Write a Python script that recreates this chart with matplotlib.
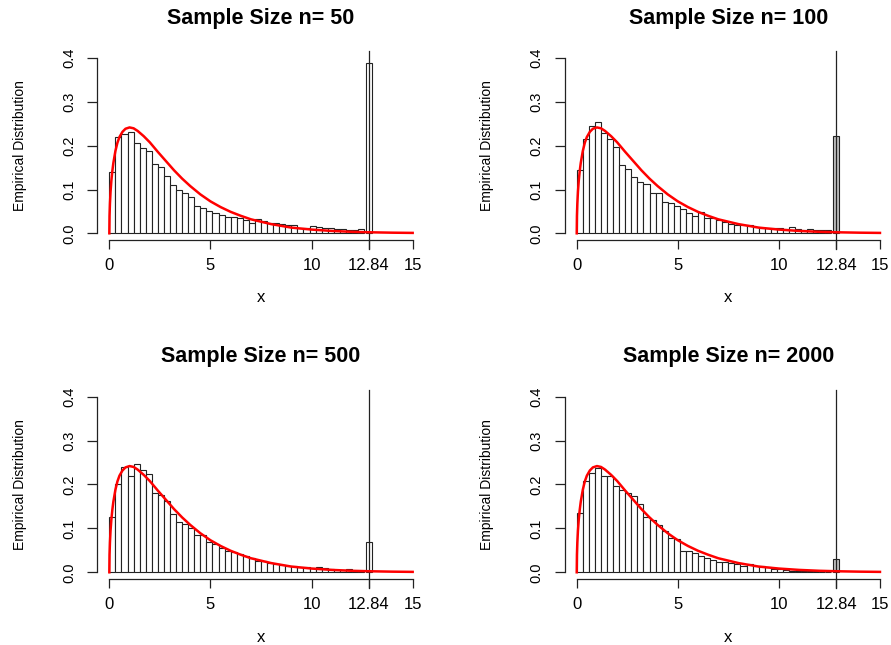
import matplotlib.pyplot as plt
import numpy as np

plt.rcParams['font.family'] = ['Liberation Sans', 'DejaVu Sans']

sample_sizes = [50, 100, 500, 2000]
cutoff = 12.84
bin_width = 0.3

# bar heights (density), bins of 0.3 starting at 0
dens_50 = [0.139, 0.221, 0.226, 0.231, 0.207, 0.196, 0.189, 0.158, 0.152, 0.130,
           0.110, 0.098, 0.091, 0.083, 0.063, 0.057, 0.051, 0.046, 0.042, 0.037,
           0.037, 0.034, 0.030, 0.024, 0.032, 0.027, 0.024, 0.023, 0.021, 0.019,
           0.018, 0.013, 0.013, 0.016, 0.014, 0.013, 0.013, 0.010, 0.009, 0.008,
           0.008, 0.009]
dens_100 = [0.145, 0.216, 0.246, 0.254, 0.230, 0.216, 0.198, 0.155, 0.146, 0.128,
            0.118, 0.112, 0.091, 0.091, 0.072, 0.070, 0.063, 0.055, 0.046, 0.040,
            0.049, 0.036, 0.034, 0.030, 0.025, 0.021, 0.019, 0.018, 0.020, 0.014,
            0.011, 0.013, 0.013, 0.013, 0.009, 0.014, 0.010, 0.008, 0.009, 0.008,
            0.008, 0.008]
dens_500 = [0.125, 0.200, 0.239, 0.219, 0.246, 0.233, 0.224, 0.181, 0.176, 0.162,
            0.132, 0.114, 0.111, 0.101, 0.086, 0.086, 0.070, 0.065, 0.056, 0.049,
            0.046, 0.042, 0.036, 0.032, 0.026, 0.025, 0.021, 0.019, 0.017, 0.015,
            0.014, 0.012, 0.011, 0.010, 0.013, 0.009, 0.007, 0.005, 0.005, 0.008,
            0.003, 0.002]
dens_2000 = [0.134, 0.207, 0.227, 0.237, 0.220, 0.220, 0.197, 0.188, 0.180, 0.174,
             0.156, 0.126, 0.119, 0.108, 0.093, 0.077, 0.075, 0.049, 0.049, 0.043,
             0.036, 0.032, 0.028, 0.024, 0.023, 0.021, 0.018, 0.015, 0.018, 0.014,
             0.015, 0.012, 0.008, 0.007, 0.005, 0.004, 0.004, 0.003, 0.002, 0.002,
             0.0015, 0.001]
all_dens = [dens_50, dens_100, dens_500, dens_2000]

# mass piled up at the cutoff
spike = [0.390, 0.223, 0.070, 0.030]
spike_fill = ['white', '#bebebe', 'white', '#bebebe']

# theoretical density (red curve)
curve_x = [0, 0.01, 0.03, 0.06, 0.1, 0.15, 0.2, 0.3, 0.4, 0.5, 0.65, 0.8, 1.0,
           1.2, 1.4, 1.7, 2.0, 2.4, 2.8, 3.2, 3.6, 4.0, 4.5, 5.0, 5.5, 6.0, 6.5,
           7.0, 8.0, 9.0, 10.0, 11.0, 12.0, 13.0, 14.0, 15.0]
curve_y = [0, 0.040, 0.068, 0.095, 0.120, 0.143, 0.161, 0.188, 0.207, 0.220,
           0.232, 0.239, 0.242, 0.240, 0.234, 0.222, 0.208, 0.186, 0.165, 0.144,
           0.125, 0.108, 0.089, 0.073, 0.060, 0.049, 0.040, 0.032, 0.021, 0.013,
           0.0085, 0.0054, 0.0034, 0.0022, 0.0014, 0.0009]

W, H = 891, 645
fig = plt.figure(figsize=(W / 100, H / 100), dpi=100)

# plot regions in pixels: left, top, right, bottom
boxes = [(97.2, 51.3, 424.8, 240.3), (564.6, 51.3, 892.1, 240.3),
         (97.2, 389.7, 424.8, 579.3), (564.6, 389.7, 892.1, 579.3)]

for i, (l, t, r, b) in enumerate(boxes):
    ax = fig.add_axes([l / W, 1 - b / H, (r - l) / W, (b - t) / H])
    dens = all_dens[i]
    lefts = np.arange(len(dens)) * bin_width
    ax.bar(lefts, dens, width=bin_width, align='edge', facecolor='white',
           edgecolor='#222222', linewidth=0.8)
    ax.bar(cutoff, spike[i], width=bin_width, align='center',
           facecolor=spike_fill[i], edgecolor='#222222', linewidth=0.8)
    ax.axvline(cutoff, ymin=-0.045, ymax=1.0, color='#222222', lw=0.9, clip_on=False)
    ax.plot(curve_x, curve_y, color='#ff0000', lw=1.8)

    ax.set_xlim(-0.6, 15.6)
    ax.set_ylim(-0.016, 0.416)
    for s in ['top', 'right']:
        ax.spines[s].set_visible(False)
    ax.spines['bottom'].set_bounds(0, 15)
    ax.spines['left'].set_bounds(0, 0.4)
    for s in ['bottom', 'left']:
        ax.spines[s].set_color('#222222')
        ax.spines[s].set_linewidth(0.9)

    ax.set_xticks([0, 5, 10, cutoff, 15], labels=['0', '5', '10', '12.84', '15'])
    ax.set_yticks([0, 0.1, 0.2, 0.3, 0.4], labels=['0.0', '0.1', '0.2', '0.3', '0.4'])
    ax.tick_params(axis='x', length=6.5, width=0.9, pad=6.5, labelsize=12, color='#222222')
    ax.tick_params(axis='y', length=7, width=0.9, pad=8, labelsize=10.5,
                   labelrotation=90, color='#222222')
    for lab in ax.get_yticklabels():
        lab.set_va('center')

    ax.set_xlabel('x', fontsize=12, va='center')
    ax.xaxis.set_label_coords(0.5, -0.305)
    ax.set_ylabel('Empirical Distribution', fontsize=10, va='center')
    ax.yaxis.set_label_coords(-0.236, 0.5)
    ax.text(0.5, 1.176, 'Sample Size n= %d' % sample_sizes[i], transform=ax.transAxes,
            ha='center', va='center', fontsize=15.5, fontweight='bold')

fig.savefig('out.png', dpi=100)
